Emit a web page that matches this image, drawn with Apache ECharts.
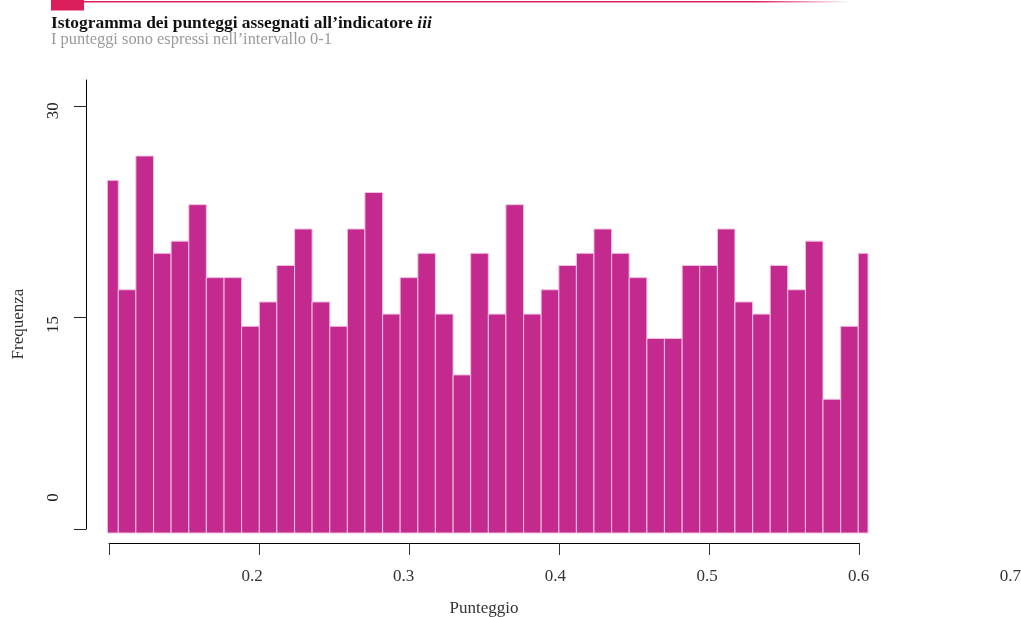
<!DOCTYPE html>
<html>
<head>
<meta charset="utf-8">
<script src="https://cdn.jsdelivr.net/npm/echarts@6/dist/echarts.min.js"></script>
<style>
html,body{margin:0;padding:0;background:#fff;}
#chart{width:1021px;height:617px;}
</style>
</head>
<body>
<div id="chart"></div>
<script>
// ---- data ----
const binEdges = [0.0989, 0.1062, 0.1179, 0.1297, 0.1414, 0.1532, 0.1649, 0.1767, 0.1884, 0.2002,
  0.2119, 0.2237, 0.2354, 0.2472, 0.2589, 0.2706, 0.2824, 0.2941, 0.3059, 0.3176,
  0.3294, 0.3411, 0.3529, 0.3646, 0.3764, 0.3881, 0.3999, 0.4116, 0.4233, 0.4351,
  0.4468, 0.4586, 0.4703, 0.4821, 0.4938, 0.5056, 0.5173, 0.5291, 0.5408, 0.5525,
  0.5643, 0.5760, 0.5878, 0.5995, 0.6060];
const frequencies = [29, 20, 31, 23, 24, 27, 21, 21, 17, 19,
  22, 25, 19, 17, 25, 28, 18, 21, 23, 18,
  13, 23, 18, 27, 18, 20, 22, 23, 25, 23,
  21, 16, 16, 22, 22, 25, 19, 18, 22, 20,
  24, 11, 17, 23];
const xTickValues = [0.1, 0.2, 0.3, 0.4, 0.5, 0.6];
const xTickLabels = ['0.2', '0.3', '0.4', '0.5', '0.6', '0.7'];
const yTickValues = [0, 15, 30];
const yTickLabels = ['0', '15', '30'];
const titleText = 'Istogramma dei punteggi assegnati all\u2019indicatore ';
const titleItalic = 'iii';
const subtitleText = 'I punteggi sono espressi nell\u2019intervallo 0-1';
const xName = 'Punteggio';
const yName = 'Frequenza';

const FONT = 'Liberation Serif';
const BAR = '#c42a8e';
const ACCENT = '#dc1f5a';

const histData = frequencies.map((f, i) => [binEdges[i], binEdges[i + 1], f]);
const yLabelPos = [2.23, 14.5, 29.66];

const chart = echarts.init(document.getElementById('chart'), null, {renderer: 'canvas'});
chart.setOption({
  animation: false,
  backgroundColor: '#fff',
  title: [
    {
      text: titleText + '{it|' + titleItalic + '}',
      left: 51, top: 15, padding: 0,
      textStyle: {
        fontFamily: FONT, fontSize: 17.4, fontWeight: 'bold', color: '#111',
        rich: { it: { fontFamily: FONT, fontSize: 17.4, fontWeight: 'bold', fontStyle: 'italic', color: '#111' } }
      }
    },
    {
      text: subtitleText,
      left: 51, top: 32, padding: 0,
      textStyle: { fontFamily: FONT, fontSize: 16.4, fontWeight: 'normal', color: '#9a9a9a' }
    }
  ],
  graphic: [
    { type: 'rect', left: 51, top: 1, shape: { width: 800, height: 1.6 },
      style: { fill: { type: 'linear', x: 0, y: 0, x2: 1, y2: 0,
        colorStops: [{ offset: 0, color: ACCENT }, { offset: 0.88, color: ACCENT }, { offset: 1, color: 'rgba(220,31,90,0)' }] } } },
    { type: 'rect', left: 51, top: 0, shape: { width: 33, height: 10.5 }, style: { fill: ACCENT } }
  ],
  grid: [
    { left: 109, width: 750, top: 80, bottom: 84, containLabel: false, outerBoundsMode: 'none' },
    { left: 86, width: 10, top: 80, bottom: 88, containLabel: false, outerBoundsMode: 'none' },
    { left: 100.4, right: 10.6, top: 115, bottom: 84, containLabel: false, outerBoundsMode: 'none' }
  ],
  xAxis: [
    {
      gridIndex: 0, type: 'value', min: 0.1, max: 0.6, interval: 0.1, offset: 10,
      axisLine: { show: true, onZero: false, lineStyle: { color: '#000', width: 1 } },
      axisTick: { show: true, length: 12, lineStyle: { color: '#333' } },
      axisLabel: { show: false },
      splitLine: { show: false },
      name: xName, nameLocation: 'middle', nameGap: 57,
      nameTextStyle: { fontFamily: FONT, fontSize: 17, color: '#333' }
    },
    { gridIndex: 1, type: 'value', show: false },
    {
      gridIndex: 2, type: 'value', min: 0.1, max: 0.7, interval: 0.1, offset: 10,
      axisLine: { show: false, onZero: false }, axisTick: { show: false }, splitLine: { show: false },
      axisLabel: {
        show: true, margin: 25, fontFamily: FONT, fontSize: 17, color: '#333',
        formatter: v => {
          const i = Math.round((v - 0.2) * 10);
          return i >= 0 && i < xTickLabels.length ? xTickLabels[i] : '';
        }
      }
    }
  ],
  yAxis: [
    { gridIndex: 0, type: 'value', min: 0, max: 37.25, show: false },
    {
      gridIndex: 1, type: 'value', min: 0, max: 31.84,
      axisLine: { show: true, onZero: false, lineStyle: { color: '#000', width: 1 } },
      axisTick: { show: true, length: 12, customValues: yTickValues, lineStyle: { color: '#222' } },
      axisLabel: {
        show: true, customValues: yLabelPos, rotate: 90, margin: 24,
        fontFamily: FONT, fontSize: 17, color: '#222',
        formatter: v => {
          let best = 0;
          yLabelPos.forEach((p, i) => { if (Math.abs(p - v) < Math.abs(yLabelPos[best] - v)) best = i; });
          return yTickLabels[best];
        }
      },
      splitLine: { show: false }
    },
    {
      gridIndex: 2, type: 'value', min: 0, max: 1,
      axisLine: { show: false, onZero: false }, axisTick: { show: false }, axisLabel: { show: false }, splitLine: { show: false },
      name: yName, nameLocation: 'middle', nameGap: 73,
      nameTextStyle: { fontFamily: FONT, fontSize: 17, color: '#333' }
    }
  ],
  series: [{
    type: 'custom',
    xAxisIndex: 0, yAxisIndex: 0,
    encode: { x: [0, 1], y: 2 },
    data: histData,
    renderItem: function (params, api) {
      const p0 = api.coord([api.value(0), 0]);
      const p1 = api.coord([api.value(1), api.value(2)]);
      return {
        type: 'rect',
        shape: { x: p0[0], y: p1[1], width: p1[0] - p0[0], height: p0[1] - p1[1] },
        style: { fill: BAR, stroke: '#efc3e1', lineWidth: 1 }
      };
    }
  }]
});
</script>
</body>
</html>
